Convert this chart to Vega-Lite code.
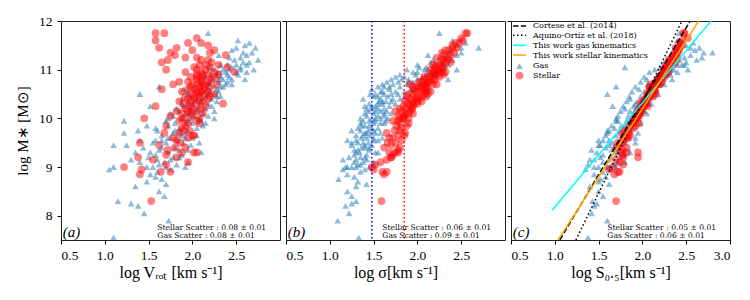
{
"$schema": "https://vega.github.io/schema/vega-lite/v6.json",
"background": "white",
"padding": {"left": 15, "top": 13, "right": 5, "bottom": 5},
"spacing": 0,
"config": {
  "view": {"stroke": "#222", "strokeWidth": 1},
  "axis": {"grid": false, "domain": false, "tickColor": "#000", "tickSize": 4, "labelFont": "Liberation Serif", "labelFontSize": 13.5, "labelColor": "#000", "titleFont": "Liberation Serif", "titleFontSize": 15, "titleFontWeight": "normal", "titleColor": "#000"},
  "axisX": {"labelPadding": 4, "titlePadding": 3, "titleFontSize": 16},
  "axisY": {"labelPadding": 5, "titlePadding": 8},
  "text": {"font": "Liberation Serif", "color": "#000"}
},
"datasets": {
"gas": [
{"m":7.55,"v":1.10,"s":1.33,"S":1.38},{"m":7.90,"v":1.73,"s":1.09,"S":1.60},{"m":8.05,"v":1.45,"s":1.22,"S":1.42},{"m":8.20,"v":1.38,"s":1.18,"S":1.45},{"m":8.25,"v":1.30,"s":1.25,"S":1.48},{"m":8.30,"v":1.15,"s":1.30,"S":1.43},{"m":8.40,"v":1.68,"s":1.25,"S":1.55},{"m":8.50,"v":1.62,"s":1.20,"S":1.50},{"m":8.60,"v":1.35,"s":1.30,"S":1.40},{"m":8.65,"v":1.70,"s":1.42,"S":1.62},{"m":8.75,"v":1.65,"s":1.10,"S":1.52},{"m":8.80,"v":1.58,"s":1.28,"S":1.58},{"m":8.85,"v":1.52,"s":1.20,"S":1.45},{"m":8.90,"v":1.60,"s":1.35,"S":1.55},{"m":8.95,"v":1.05,"s":1.15,"S":1.35},{"m":8.95,"v":1.75,"s":1.40,"S":1.65},{"m":9.00,"v":1.55,"s":1.25,"S":1.60},{"m":9.00,"v":1.92,"s":1.30,"S":1.70},{"m":9.00,"v":1.10,"s":1.45,"S":1.50},{"m":9.00,"v":1.48,"s":1.20,"S":1.45},{"m":9.05,"v":1.82,"s":1.32,"S":1.68},{"m":9.10,"v":1.40,"s":1.28,"S":1.55},{"m":9.10,"v":1.68,"s":1.38,"S":1.72},{"m":9.15,"v":1.60,"s":1.30,"S":1.62},{"m":9.20,"v":1.50,"s":1.35,"S":1.52},{"m":9.20,"v":1.78,"s":1.22,"S":1.75},{"m":9.25,"v":1.88,"s":1.42,"S":1.78},{"m":9.30,"v":1.35,"s":1.30,"S":1.48},{"m":9.30,"v":1.72,"s":1.34,"S":1.70},{"m":9.35,"v":1.62,"s":1.45,"S":1.65},{"m":9.35,"v":1.95,"s":1.28,"S":1.80},{"m":9.40,"v":1.80,"s":1.40,"S":1.74},{"m":9.40,"v":1.44,"s":1.36,"S":1.58},{"m":9.45,"v":1.10,"s":1.25,"S":1.50},{"m":9.45,"v":1.25,"s":1.48,"S":1.62},{"m":9.50,"v":1.70,"s":1.32,"S":1.78},{"m":9.50,"v":1.90,"s":1.44,"S":1.72},{"m":9.50,"v":1.55,"s":1.38,"S":1.66},{"m":9.55,"v":1.82,"s":1.50,"S":1.80},{"m":9.60,"v":1.75,"s":1.36,"S":1.84},{"m":9.60,"v":2.00,"s":1.42,"S":1.76},{"m":9.65,"v":1.65,"s":1.46,"S":1.70},{"m":9.65,"v":1.88,"s":1.30,"S":1.82},{"m":9.70,"v":1.22,"s":1.40,"S":1.60},{"m":9.70,"v":1.78,"s":1.52,"S":1.78},{"m":9.75,"v":1.95,"s":1.44,"S":1.86},{"m":9.75,"v":1.60,"s":1.35,"S":1.74},{"m":9.80,"v":1.85,"s":1.48,"S":1.82},{"m":9.80,"v":2.05,"s":1.55,"S":1.88},{"m":9.85,"v":1.72,"s":1.40,"S":1.80},{"m":9.90,"v":1.92,"s":1.50,"S":1.84},{"m":9.90,"v":1.80,"s":1.62,"S":1.90},{"m":9.95,"v":2.10,"s":1.45,"S":1.86},{"m":9.95,"v":1.22,"s":1.52,"S":1.72},{"m":10.00,"v":1.88,"s":1.58,"S":1.92},{"m":10.00,"v":1.98,"s":1.48,"S":1.88},{"m":10.00,"v":2.25,"s":1.66,"S":1.95},{"m":10.05,"v":1.78,"s":1.55,"S":1.84},{"m":10.05,"v":2.02,"s":1.62,"S":1.96},{"m":10.10,"v":1.92,"s":1.50,"S":1.90},{"m":10.10,"v":2.12,"s":1.70,"S":1.98},{"m":10.15,"v":1.85,"s":1.58,"S":1.86},{"m":10.15,"v":2.05,"s":1.44,"S":1.92},{"m":10.20,"v":1.98,"s":1.62,"S":2.00},{"m":10.20,"v":2.15,"s":1.55,"S":1.94},{"m":10.25,"v":1.90,"s":1.68,"S":1.96},{"m":10.25,"v":2.08,"s":1.52,"S":1.90},{"m":10.30,"v":2.00,"s":1.60,"S":1.98},{"m":10.30,"v":2.18,"s":1.75,"S":2.04},{"m":10.35,"v":1.95,"s":1.56,"S":1.94},{"m":10.35,"v":2.10,"s":1.64,"S":2.00},{"m":10.40,"v":2.05,"s":1.58,"S":2.02},{"m":10.40,"v":2.22,"s":1.80,"S":2.08},{"m":10.45,"v":1.98,"s":1.66,"S":1.98},{"m":10.45,"v":2.15,"s":1.55,"S":2.04},{"m":10.50,"v":2.08,"s":1.70,"S":2.06},{"m":10.50,"v":2.25,"s":1.62,"S":2.10},{"m":10.50,"v":1.40,"s":1.46,"S":1.60},{"m":10.55,"v":2.12,"s":1.75,"S":2.10},{"m":10.55,"v":2.30,"s":1.85,"S":2.14},{"m":10.60,"v":2.18,"s":1.68,"S":2.08},{"m":10.60,"v":2.02,"s":1.92,"S":2.12},{"m":10.65,"v":2.25,"s":1.80,"S":2.14},{"m":10.65,"v":2.35,"s":1.62,"S":2.12},{"m":10.70,"v":2.20,"s":1.88,"S":2.16},{"m":10.70,"v":2.10,"s":1.72,"S":2.06},{"m":10.75,"v":2.30,"s":1.95,"S":2.18},{"m":10.75,"v":2.40,"s":1.78,"S":2.20},{"m":10.80,"v":2.22,"s":2.00,"S":2.20},{"m":10.80,"v":2.45,"s":1.90,"S":2.24},{"m":10.85,"v":2.32,"s":2.05,"S":2.16},{"m":10.85,"v":2.15,"s":1.85,"S":2.22},{"m":10.90,"v":2.40,"s":2.10,"S":2.26},{"m":10.90,"v":2.28,"s":1.98,"S":2.24},{"m":10.95,"v":2.50,"s":2.15,"S":2.30},{"m":10.95,"v":2.62,"s":2.20,"S":2.40},{"m":11.00,"v":2.35,"s":2.08,"S":2.28},{"m":11.00,"v":2.55,"s":2.25,"S":2.36},{"m":11.05,"v":2.45,"s":2.30,"S":2.32},{"m":11.05,"v":2.20,"s":2.02,"S":1.80},{"m":11.10,"v":2.50,"s":2.22,"S":2.40},{"m":11.10,"v":2.40,"s":2.35,"S":2.45},{"m":11.15,"v":2.58,"s":2.28,"S":2.50},{"m":11.20,"v":2.48,"s":2.40,"S":2.42},{"m":11.20,"v":2.75,"s":2.18,"S":2.62},{"m":11.25,"v":2.55,"s":2.32,"S":2.48},{"m":11.30,"v":2.62,"s":2.45,"S":2.55},{"m":11.30,"v":2.30,"s":2.12,"S":2.38},{"m":11.35,"v":2.68,"s":2.50,"S":2.80},{"m":11.40,"v":2.45,"s":2.38,"S":2.60},{"m":11.45,"v":2.72,"s":2.70,"S":2.65},{"m":11.50,"v":2.60,"s":2.45,"S":2.50},{"m":11.55,"v":2.65,"s":2.55,"S":2.58},{"m":11.60,"v":2.52,"s":2.40,"S":2.40},{"m":11.75,"v":2.18,"s":2.25,"S":2.42},{"m":10.00,"v":2.08,"s":1.52,"S":1.90},{"m":10.10,"v":1.95,"s":1.62,"S":1.94},{"m":10.20,"v":2.05,"s":1.48,"S":1.96},{"m":10.30,"v":1.88,"s":1.55,"S":1.92},{"m":10.40,"v":2.12,"s":1.72,"S":2.04},{"m":10.50,"v":2.18,"s":1.78,"S":2.08},{"m":10.60,"v":2.28,"s":1.95,"S":2.16},{"m":10.70,"v":2.38,"s":2.02,"S":2.20},{"m":10.80,"v":2.30,"s":1.82,"S":2.18},{"m":10.90,"v":2.52,"s":2.18,"S":2.28},{"m":11.00,"v":2.42,"s":2.12,"S":2.32},{"m":9.90,"v":2.00,"s":1.58,"S":1.88},{"m":9.70,"v":1.85,"s":1.42,"S":1.80},{"m":9.60,"v":1.92,"s":1.50,"S":1.78},{"m":9.40,"v":1.65,"s":1.45,"S":1.68},{"m":9.20,"v":1.85,"s":1.40,"S":1.64},{"m":10.15,"v":2.25,"s":1.65,"S":2.02},{"m":10.35,"v":2.28,"s":1.70,"S":2.06},{"m":10.55,"v":1.95,"s":1.60,"S":2.02},{"m":10.75,"v":2.18,"s":1.90,"S":2.12},{"m":10.95,"v":2.30,"s":2.00,"S":2.26},{"m":11.10,"v":2.32,"s":2.28,"S":2.36},{"m":9.85,"v":1.48,"s":1.36,"S":1.76},{"m":9.95,"v":1.70,"s":1.64,"S":1.82},{"m":10.65,"v":1.62,"s":1.55,"S":1.70},{"m":10.25,"v":1.52,"s":1.40,"S":1.66},{"m":9.55,"v":1.40,"s":1.55,"S":1.62},{"m":10.80,"v":2.60,"s":2.35,"S":2.34},{"m":11.00,"v":2.70,"s":2.45,"S":2.52},{"m":10.45,"v":2.32,"s":1.85,"S":2.12},
{"m":9.05,"v":1.62,"s":1.35,"S":1.38},{"m":9.15,"v":1.75,"s":1.42,"S":1.45},{"m":9.25,"v":1.58,"s":1.28,"S":1.55},{"m":9.35,"v":1.85,"s":1.32,"S":1.42},{"m":9.45,"v":1.98,"s":1.40,"S":1.52},{"m":9.55,"v":1.65,"s":1.30,"S":1.50},{"m":9.65,"v":2.05,"s":1.38,"S":1.58},{"m":9.75,"v":1.80,"s":1.50,"S":1.62},{"m":9.85,"v":2.12,"s":1.45,"S":1.65},{"m":9.95,"v":1.95,"s":1.38,"S":1.70},{"m":10.05,"v":2.18,"s":1.42,"S":1.72},{"m":10.15,"v":1.98,"s":1.52,"S":1.75},{"m":10.25,"v":2.22,"s":1.48,"S":1.78},{"m":10.35,"v":2.02,"s":1.60,"S":1.82},{"m":10.45,"v":2.28,"s":1.50,"S":1.85},{"m":10.55,"v":2.20,"s":1.58,"S":1.88},{"m":10.65,"v":2.32,"s":1.68,"S":1.92},{"m":10.75,"v":2.10,"s":1.65,"S":1.98},{"m":10.85,"v":2.42,"s":1.75,"S":2.02},{"m":10.95,"v":2.38,"s":1.95,"S":2.08},{"m":11.05,"v":2.55,"s":2.10,"S":2.20},{"m":11.15,"v":2.65,"s":2.15,"S":2.25},{"m":11.25,"v":2.42,"s":2.25,"S":2.68},{"m":11.35,"v":2.58,"s":2.35,"S":2.70},{"m":11.45,"v":2.50,"s":2.50,"S":2.55},{"m":9.10,"v":1.95,"s":1.50,"S":1.80},{"m":9.30,"v":1.52,"s":1.52,"S":1.86},{"m":9.50,"v":2.08,"s":1.25,"S":1.92},{"m":9.70,"v":1.92,"s":1.58,"S":1.95},{"m":9.90,"v":2.15,"s":1.35,"S":1.98},{"m":10.10,"v":1.75,"s":1.40,"S":2.05},{"m":10.30,"v":1.95,"s":1.45,"S":2.10},{"m":10.50,"v":1.95,"s":1.52,"S":2.18},{"m":10.70,"v":2.45,"s":1.60,"S":2.25},{"m":10.90,"v":2.20,"s":1.80,"S":2.32},{"m":11.10,"v":2.62,"s":2.00,"S":2.48},{"m":9.60,"v":1.72,"s":1.60,"S":1.92},{"m":9.80,"v":1.58,"s":1.32,"S":1.68},{"m":10.00,"v":1.72,"s":1.35,"S":1.70},{"m":10.20,"v":1.82,"s":1.42,"S":1.80},{"m":10.40,"v":1.88,"s":1.38,"S":1.86},{"m":10.60,"v":1.90,"s":1.48,"S":1.96},{"m":10.80,"v":2.35,"s":1.70,"S":2.05},{"m":11.00,"v":2.25,"s":1.88,"S":2.14},{"m":9.00,"v":1.70,"s":1.18,"S":1.62},{"m":8.70,"v":1.48,"s":1.32,"S":1.50},{"m":9.15,"v":1.30,"s":1.15,"S":1.40},{"m":9.30,"v":2.10,"s":1.55,"S":1.72},{"m":9.55,"v":1.58,"s":1.20,"S":1.55},{"m":9.75,"v":1.38,"s":1.25,"S":1.60}
],
"stellar": [
{"m":8.30,"v":1.53,"s":1.59,"S":1.70},{"m":8.85,"v":1.40,"s":1.62,"S":1.68},{"m":8.90,"v":1.64,"s":1.65,"S":1.72},{"m":8.95,"v":1.42,"s":1.50,"S":1.62},{"m":9.00,"v":1.22,"s":1.48,"S":1.66},{"m":9.10,"v":1.95,"s":1.58,"S":1.74},{"m":9.15,"v":1.55,"s":1.65,"S":1.70},{"m":9.20,"v":1.38,"s":1.70,"S":1.78},{"m":9.25,"v":1.70,"s":1.72,"S":1.78},{"m":9.30,"v":2.02,"s":1.68,"S":1.95},{"m":9.30,"v":1.88,"s":1.75,"S":1.76},{"m":9.35,"v":1.72,"s":1.78,"S":1.76},{"m":9.40,"v":1.80,"s":1.62,"S":1.82},{"m":9.45,"v":1.62,"s":1.70,"S":1.74},{"m":9.50,"v":1.40,"s":1.66,"S":1.72},{"m":9.55,"v":1.82,"s":1.82,"S":1.78},{"m":9.60,"v":1.95,"s":1.72,"S":1.84},{"m":9.60,"v":1.78,"s":1.68,"S":1.82},{"m":9.65,"v":2.00,"s":1.78,"S":1.86},{"m":9.70,"v":1.85,"s":1.86,"S":1.84},{"m":9.75,"v":1.90,"s":1.74,"S":1.80},{"m":9.80,"v":1.88,"s":1.82,"S":1.90},{"m":9.85,"v":1.70,"s":1.76,"S":1.86},{"m":9.85,"v":1.92,"s":1.88,"S":1.92},{"m":9.90,"v":1.95,"s":1.80,"S":1.88},{"m":9.95,"v":1.85,"s":1.72,"S":1.92},{"m":10.00,"v":1.45,"s":1.84,"S":1.90},{"m":10.00,"v":1.92,"s":1.90,"S":1.94},{"m":10.05,"v":2.00,"s":1.78,"S":1.96},{"m":10.10,"v":1.88,"s":1.86,"S":1.98},{"m":10.10,"v":1.98,"s":1.95,"S":1.95},{"m":10.15,"v":2.05,"s":1.82,"S":1.99},{"m":10.20,"v":1.92,"s":1.88,"S":2.00},{"m":10.20,"v":2.10,"s":1.80,"S":1.96},{"m":10.25,"v":1.58,"s":1.92,"S":2.02},{"m":10.25,"v":1.98,"s":1.84,"S":2.00},{"m":10.30,"v":2.05,"s":1.90,"S":2.03},{"m":10.30,"v":1.90,"s":1.96,"S":1.98},{"m":10.35,"v":2.12,"s":1.86,"S":2.04},{"m":10.35,"v":1.98,"s":2.00,"S":2.02},{"m":10.40,"v":2.02,"s":1.92,"S":2.06},{"m":10.40,"v":2.18,"s":1.98,"S":2.04},{"m":10.45,"v":1.92,"s":2.05,"S":2.08},{"m":10.45,"v":2.08,"s":1.88,"S":2.05},{"m":10.50,"v":2.00,"s":1.95,"S":2.08},{"m":10.50,"v":2.15,"s":2.08,"S":2.10},{"m":10.55,"v":2.05,"s":1.98,"S":2.12},{"m":10.55,"v":1.88,"s":2.10,"S":2.10},{"m":10.60,"v":2.12,"s":2.02,"S":2.12},{"m":10.60,"v":1.95,"s":2.12,"S":2.14},{"m":10.65,"v":2.08,"s":2.05,"S":2.14},{"m":10.65,"v":2.20,"s":1.95,"S":2.12},{"m":10.70,"v":2.00,"s":2.10,"S":2.16},{"m":10.70,"v":2.15,"s":2.18,"S":2.18},{"m":10.75,"v":2.10,"s":2.02,"S":2.16},{"m":10.75,"v":1.85,"s":2.15,"S":2.18},{"m":10.80,"v":2.05,"s":2.20,"S":2.20},{"m":10.80,"v":2.22,"s":2.08,"S":2.18},{"m":10.85,"v":2.12,"s":2.12,"S":2.22},{"m":10.85,"v":1.98,"s":2.25,"S":2.22},{"m":10.90,"v":2.18,"s":2.15,"S":2.24},{"m":10.90,"v":2.05,"s":2.22,"S":2.22},{"m":10.95,"v":2.10,"s":2.18,"S":2.26},{"m":10.95,"v":2.25,"s":2.28,"S":2.24},{"m":11.00,"v":1.70,"s":2.20,"S":2.26},{"m":11.00,"v":2.15,"s":2.24,"S":2.28},{"m":11.05,"v":2.20,"s":2.30,"S":2.30},{"m":11.10,"v":2.08,"s":2.26,"S":2.30},{"m":11.10,"v":2.30,"s":2.18,"S":2.32},{"m":11.15,"v":1.65,"s":2.32,"S":2.33},{"m":11.20,"v":2.18,"s":2.30,"S":2.34},{"m":11.25,"v":2.05,"s":2.35,"S":2.35},{"m":11.30,"v":1.80,"s":2.38,"S":2.38},{"m":11.35,"v":2.20,"s":2.28,"S":2.37},{"m":11.35,"v":1.75,"s":2.42,"S":2.40},{"m":11.40,"v":2.00,"s":2.36,"S":2.40},{"m":11.45,"v":1.82,"s":2.45,"S":2.42},{"m":11.50,"v":2.18,"s":2.40,"S":2.45},{"m":11.55,"v":2.10,"s":2.48,"S":2.44},{"m":11.60,"v":1.58,"s":2.52,"S":2.46},{"m":11.75,"v":1.58,"s":2.55,"S":2.48},{"m":11.75,"v":1.68,"s":2.57,"S":2.47},{"m":11.55,"v":1.95,"s":2.44,"S":2.42},{"m":11.30,"v":2.38,"s":2.30,"S":2.36},{"m":11.05,"v":2.40,"s":2.20,"S":2.30},{"m":10.95,"v":2.48,"s":2.25,"S":2.28},{"m":10.30,"v":2.35,"s":2.00,"S":2.05},{"m":9.30,"v":2.05,"s":1.78,"S":1.82},{"m":9.65,"v":2.02,"s":1.85,"S":1.80},{"m":10.00,"v":2.08,"s":1.84,"S":1.92},{"m":9.95,"v":2.05,"s":1.78,"S":1.90},{"m":10.10,"v":2.12,"s":1.90,"S":1.96},{"m":10.20,"v":2.00,"s":1.94,"S":1.98},{"m":10.35,"v":2.08,"s":1.94,"S":2.02},{"m":10.45,"v":2.02,"s":2.00,"S":2.06},{"m":10.55,"v":2.10,"s":2.05,"S":2.08},{"m":10.60,"v":2.03,"s":1.96,"S":2.10},{"m":10.70,"v":2.06,"s":2.08,"S":2.14},{"m":10.75,"v":2.18,"s":2.12,"S":2.16},{"m":10.85,"v":2.05,"s":2.08,"S":2.20},{"m":10.90,"v":2.12,"s":2.20,"S":2.22},{"m":11.00,"v":2.05,"s":2.15,"S":2.24},{"m":11.10,"v":2.15,"s":2.22,"S":2.28},{"m":11.20,"v":2.10,"s":2.35,"S":2.30},{"m":10.40,"v":1.95,"s":2.02,"S":2.04},{"m":10.50,"v":2.08,"s":1.90,"S":2.06},{"m":10.65,"v":2.14,"s":2.10,"S":2.12},{"m":10.80,"v":2.10,"s":2.15,"S":2.18},{"m":10.15,"v":1.95,"s":1.92,"S":1.98},{"m":9.75,"v":1.97,"s":1.80,"S":1.84},{"m":11.45,"v":1.62,"s":2.40,"S":2.38},{"m":11.20,"v":1.72,"s":2.28,"S":2.32},{"m":10.60,"v":1.65,"s":2.08,"S":2.08},{"m":10.00,"v":1.88,"s":1.80,"S":1.90},{"m":9.50,"v":1.86,"s":1.75,"S":1.78},{"m":9.20,"v":1.82,"s":1.70,"S":1.95},{"m":8.90,"v":1.75,"s":1.60,"S":1.74},{"m":10.50,"v":2.25,"s":2.12,"S":2.15},{"m":10.70,"v":2.28,"s":2.22,"S":2.20},{"m":10.90,"v":2.30,"s":2.30,"S":2.26},
{"m":10.25,"v":2.15,"s":1.95,"S":2.06},{"m":10.45,"v":2.20,"s":2.10,"S":2.12},{"m":10.65,"v":1.98,"s":2.00,"S":2.08},{"m":10.85,"v":2.25,"s":2.18,"S":2.25},{"m":11.05,"v":2.02,"s":2.28,"S":2.26},{"m":10.15,"v":1.82,"s":1.75,"S":1.94},{"m":10.35,"v":1.85,"s":2.05,"S":2.00},{"m":10.55,"v":2.18,"s":2.15,"S":2.14},{"m":10.75,"v":1.95,"s":2.05,"S":2.22},{"m":10.95,"v":1.92,"s":2.32,"S":2.30},{"m":11.15,"v":2.22,"s":2.38,"S":2.38},{"m":11.25,"v":1.92,"s":2.22,"S":2.40},{"m":10.05,"v":1.75,"s":1.85,"S":1.92},{"m":9.90,"v":2.08,"s":1.90,"S":1.96},{"m":9.70,"v":1.68,"s":1.65,"S":1.76},{"m":9.40,"v":1.92,"s":1.80,"S":1.70},{"m":9.05,"v":1.70,"s":1.52,"S":1.78},{"m":11.65,"v":2.05,"s":2.50,"S":2.52},{"m":11.40,"v":2.25,"s":2.32,"S":2.42},{"m":10.70,"v":1.78,"s":1.92,"S":2.10}
],
"fits": [
{"fit":"Cortese","x":1.057,"y":7.5},{"fit":"Cortese","x":2.546,"y":12},
{"fit":"Aquino","x":1.241,"y":7.5},{"fit":"Aquino","x":2.451,"y":12},
{"fit":"gas","x":0.97,"y":8.11},{"fit":"gas","x":2.783,"y":12},
{"fit":"stellar","x":1.038,"y":7.5},{"fit":"stellar","x":2.642,"y":12}
],
"one": [{}]
},
"hconcat": [
{
"width": 219, "height": 219,
"layer": [
{"data": {"name": "gas"}, "mark": {"type": "point", "shape": "triangle-up", "filled": true, "color": "#1f77b4", "opacity": 0.5, "size": 45, "clip": true},
 "encoding": {"x": {"field": "v", "type": "quantitative", "scale": {"domain": [0.5, 3], "nice": false, "zero": false}, "axis": {"values": [0.5, 1, 1.5, 2, 2.5], "format": ".1f", "title": "log Vᵣₒₜ [km s⁻¹]"}},
  "y": {"field": "m", "type": "quantitative", "scale": {"domain": [7.5, 12], "nice": false, "zero": false}, "axis": {"values": [8, 9, 10, 11, 12], "title": "log M∗ [M⊙]"}}}},
{"data": {"name": "stellar"}, "mark": {"type": "circle", "color": "#ff0000", "opacity": 0.5, "size": 60, "clip": true},
 "encoding": {"x": {"field": "v", "type": "quantitative"}, "y": {"field": "m", "type": "quantitative"}}},
{"data": {"name": "one"}, "mark": {"type": "text", "font": "DejaVu Serif", "fontSize": 7.6, "align": "left", "baseline": "top", "lineHeight": 8.3, "text": ["Stellar Scatter : 0.08 ± 0.01", "Gas Scatter : 0.08 ± 0.01"]},
 "encoding": {"x": {"datum": 1.6, "type": "quantitative"}, "y": {"datum": 7.83, "type": "quantitative"}}},
{"data": {"name": "one"}, "mark": {"type": "text", "fontSize": 15, "align": "left", "baseline": "middle", "fontStyle": "italic", "text": "(a)"},
 "encoding": {"x": {"datum": 0.52, "type": "quantitative"}, "y": {"datum": 7.67, "type": "quantitative"}}}
]
},
{
"width": 219, "height": 219,
"layer": [
{"data": {"name": "gas"}, "mark": {"type": "point", "shape": "triangle-up", "filled": true, "color": "#1f77b4", "opacity": 0.5, "size": 45, "clip": true},
 "encoding": {"x": {"field": "s", "type": "quantitative", "scale": {"domain": [0.5, 3], "nice": false, "zero": false}, "axis": {"values": [0.5, 1, 1.5, 2, 2.5], "format": ".1f", "title": "log σ[km s⁻¹]"}},
  "y": {"field": "m", "type": "quantitative", "scale": {"domain": [7.5, 12], "nice": false, "zero": false}, "axis": {"values": [8, 9, 10, 11, 12], "labels": false, "title": null}}}},
{"data": {"name": "stellar"}, "mark": {"type": "circle", "color": "#ff0000", "opacity": 0.5, "size": 60, "clip": true},
 "encoding": {"x": {"field": "s", "type": "quantitative"}, "y": {"field": "m", "type": "quantitative"}}},
{"data": {"name": "one"}, "mark": {"type": "rule", "color": "#0000ff", "strokeWidth": 1.5, "strokeDash": [1.5, 2.5]},
 "encoding": {"x": {"datum": 1.48, "type": "quantitative"}}},
{"data": {"name": "one"}, "mark": {"type": "rule", "color": "#ff0000", "strokeWidth": 1.5, "strokeDash": [1.5, 2.5]},
 "encoding": {"x": {"datum": 1.85, "type": "quantitative"}}},
{"data": {"name": "one"}, "mark": {"type": "text", "font": "DejaVu Serif", "fontSize": 7.6, "align": "left", "baseline": "top", "lineHeight": 8.3, "text": ["Stellar Scatter : 0.06 ± 0.01", "Gas Scatter : 0.09 ± 0.01"]},
 "encoding": {"x": {"datum": 1.6, "type": "quantitative"}, "y": {"datum": 7.83, "type": "quantitative"}}},
{"data": {"name": "one"}, "mark": {"type": "text", "fontSize": 15, "align": "left", "baseline": "middle", "fontStyle": "italic", "text": "(b)"},
 "encoding": {"x": {"datum": 0.52, "type": "quantitative"}, "y": {"datum": 7.67, "type": "quantitative"}}}
]
},
{
"width": 219, "height": 219,
"layer": [
{"data": {"name": "gas"}, "mark": {"type": "point", "shape": "triangle-up", "filled": true, "color": "#1f77b4", "opacity": 0.5, "size": 45, "clip": true},
 "encoding": {"x": {"field": "S", "type": "quantitative", "scale": {"domain": [0.5, 3], "nice": false, "zero": false}, "axis": {"values": [0.5, 1, 1.5, 2, 2.5, 3], "format": ".1f", "title": "log S₀.₅[km s⁻¹]"}},
  "y": {"field": "m", "type": "quantitative", "scale": {"domain": [7.5, 12], "nice": false, "zero": false}, "axis": {"values": [8, 9, 10, 11, 12], "labels": false, "title": null}}}},
{"data": {"name": "stellar"}, "mark": {"type": "circle", "color": "#ff0000", "opacity": 0.5, "size": 60, "clip": true},
 "encoding": {"x": {"field": "S", "type": "quantitative"}, "y": {"field": "m", "type": "quantitative"}}},
{"data": {"name": "fits"}, "transform": [{"filter": "datum.fit === 'Cortese'"}], "mark": {"type": "line", "color": "#000", "strokeWidth": 1.5, "strokeDash": [5.5, 2.4], "clip": true},
 "encoding": {"x": {"field": "x", "type": "quantitative"}, "y": {"field": "y", "type": "quantitative"}}},
{"data": {"name": "fits"}, "transform": [{"filter": "datum.fit === 'Aquino'"}], "mark": {"type": "line", "color": "#000", "strokeWidth": 1.5, "strokeDash": [1.5, 2.5], "clip": true},
 "encoding": {"x": {"field": "x", "type": "quantitative"}, "y": {"field": "y", "type": "quantitative"}}},
{"data": {"name": "fits"}, "transform": [{"filter": "datum.fit === 'gas'"}], "mark": {"type": "line", "color": "#00ffff", "strokeWidth": 1.5, "clip": true},
 "encoding": {"x": {"field": "x", "type": "quantitative"}, "y": {"field": "y", "type": "quantitative"}}},
{"data": {"name": "fits"}, "transform": [{"filter": "datum.fit === 'stellar'"}], "mark": {"type": "line", "color": "#ffa500", "strokeWidth": 1.5, "clip": true},
 "encoding": {"x": {"field": "x", "type": "quantitative"}, "y": {"field": "y", "type": "quantitative"}}},
{"data": {"name": "one"}, "mark": {"type": "rule", "color": "#000", "strokeWidth": 1.5, "strokeDash": [5.5, 2.4]},
 "encoding": {"x": {"datum": 0.523, "type": "quantitative"}, "x2": {"datum": 0.671}, "y": {"datum": 11.897, "type": "quantitative"}}},
{"data": {"name": "one"}, "mark": {"type": "rule", "color": "#000", "strokeWidth": 1.5, "strokeDash": [1.5, 2.5]},
 "encoding": {"x": {"datum": 0.523, "type": "quantitative"}, "x2": {"datum": 0.671}, "y": {"datum": 11.706, "type": "quantitative"}}},
{"data": {"name": "one"}, "mark": {"type": "rule", "color": "#00ffff", "strokeWidth": 1.5},
 "encoding": {"x": {"datum": 0.523, "type": "quantitative"}, "x2": {"datum": 0.671}, "y": {"datum": 11.50, "type": "quantitative"}}},
{"data": {"name": "one"}, "mark": {"type": "rule", "color": "#ffa500", "strokeWidth": 1.5},
 "encoding": {"x": {"datum": 0.523, "type": "quantitative"}, "x2": {"datum": 0.671}, "y": {"datum": 11.30, "type": "quantitative"}}},
{"data": {"name": "one"}, "mark": {"type": "point", "shape": "triangle-up", "filled": true, "color": "#1f77b4", "opacity": 0.5, "size": 45},
 "encoding": {"x": {"datum": 0.597, "type": "quantitative"}, "y": {"datum": 11.074, "type": "quantitative"}}},
{"data": {"name": "one"}, "mark": {"type": "circle", "color": "#ff0000", "opacity": 0.5, "size": 60},
 "encoding": {"x": {"datum": 0.597, "type": "quantitative"}, "y": {"datum": 10.88, "type": "quantitative"}}},
{"data": {"name": "one"}, "mark": {"type": "text", "font": "DejaVu Serif", "fontSize": 8, "align": "left", "baseline": "top", "lineHeight": 9.86, "text": ["Cortese et al. (2014)", "Aquino-Ortíz et al. (2018)", "This work gas kinematics", "This work stellar kinematics", "Gas", "Stellar"]},
 "encoding": {"x": {"datum": 0.751, "type": "quantitative"}, "y": {"datum": 11.975, "type": "quantitative"}}},
{"data": {"name": "one"}, "mark": {"type": "text", "font": "DejaVu Serif", "fontSize": 7.6, "align": "left", "baseline": "top", "lineHeight": 8.3, "text": ["Stellar Scatter : 0.05 ± 0.01", "Gas Scatter : 0.06 ± 0.01"]},
 "encoding": {"x": {"datum": 1.6, "type": "quantitative"}, "y": {"datum": 7.83, "type": "quantitative"}}},
{"data": {"name": "one"}, "mark": {"type": "text", "fontSize": 15, "align": "left", "baseline": "middle", "fontStyle": "italic", "text": "(c)"},
 "encoding": {"x": {"datum": 0.52, "type": "quantitative"}, "y": {"datum": 7.67, "type": "quantitative"}}}
]
}
]
}
